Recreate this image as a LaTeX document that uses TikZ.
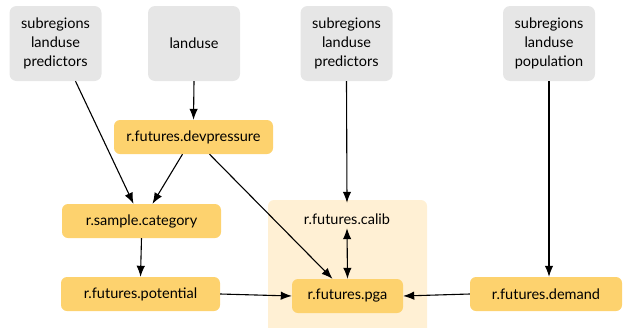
\documentclass[tikz,border=0pt]{standalone}
\usepackage{fontspec}
\setmainfont{Lato}
\usepackage{xcolor}
\usetikzlibrary{arrows.meta}
\definecolor{inputgray}{HTML}{E6E6E6}
\definecolor{modorange}{HTML}{FDD26E}
\definecolor{grouporange}{HTML}{FFF0D4}
\newcommand\labelfont{\fontsize{14.5}{19}\selectfont}

\begin{document}
\begin{tikzpicture}[x=1pt,y=1pt,
		inbox/.style={fill=inputgray, rounded corners=7pt, minimum width=92pt, minimum height=75pt, align=center, inner sep=0pt, font=\labelfont},
		modbox/.style={fill=modorange, rounded corners=6pt, minimum height=34pt, inner sep=0pt, font=\labelfont},
		flow/.style={line width=1.1pt, -{Latex[length=11pt,width=8.5pt]}}]
			\useasboundingbox (0,0) rectangle (624,-327);
			\fill[grouporange, rounded corners=6pt] (268,-200) rectangle (427,-334);
			\node[inbox] (subpred) at (55.5,-43.5) {subregions\\landuse\\predictors};
			\node[inbox] (landuse) at (194,-43.5) {landuse};
			\node[inbox] (subpredcal) at (346.5,-43.5) {subregions\\landuse\\predictors};
			\node[inbox] (subpop) at (549,-43.5) {subregions\\landuse\\population};
			\node[modbox, minimum width=159pt] (devpressure) at (193.5,-137) {r.futures.devpressure};
			\node[modbox, minimum width=159pt] (samplecat) at (141.5,-221) {r.sample.category};
			\node[modbox, minimum width=159pt] (potential) at (140.5,-294) {r.futures.potential};
			\node[font=\labelfont, minimum height=34pt, inner sep=0pt] (calib) at (347,-219) {r.futures.calib};
			\node[modbox, minimum width=111pt] (pga) at (347.5,-296) {r.futures.pga};
			\node[modbox, minimum width=152pt] (demand) at (546,-294) {r.futures.demand};
			\draw[flow] ([xshift=20pt]subpred.south) -- ([xshift=-8pt]samplecat.north);
			\draw[flow] (landuse.south) -- (devpressure.north);
			\draw[flow] ([xshift=-11pt]devpressure.south) -- ([xshift=11pt]samplecat.north);
			\draw[flow] ([xshift=16pt]devpressure.south) -- ([xshift=-15pt]pga.north);
			\draw[flow] (samplecat.south) -- (potential.north);
			\draw[flow] (subpredcal.south) -- ([yshift=-1pt]calib.north);
			\draw[flow, {Latex[length=11pt,width=8.5pt]}-{Latex[length=11pt,width=8.5pt]}] ([yshift=8pt]calib.south) -- (pga.north);
			\draw[flow] (subpop.south) -- ([xshift=3pt]demand.north);
			\draw[flow] (potential.east) -- (pga.west);
			\draw[flow] (demand.west) -- (pga.east);
		\end{tikzpicture}
\end{document}
